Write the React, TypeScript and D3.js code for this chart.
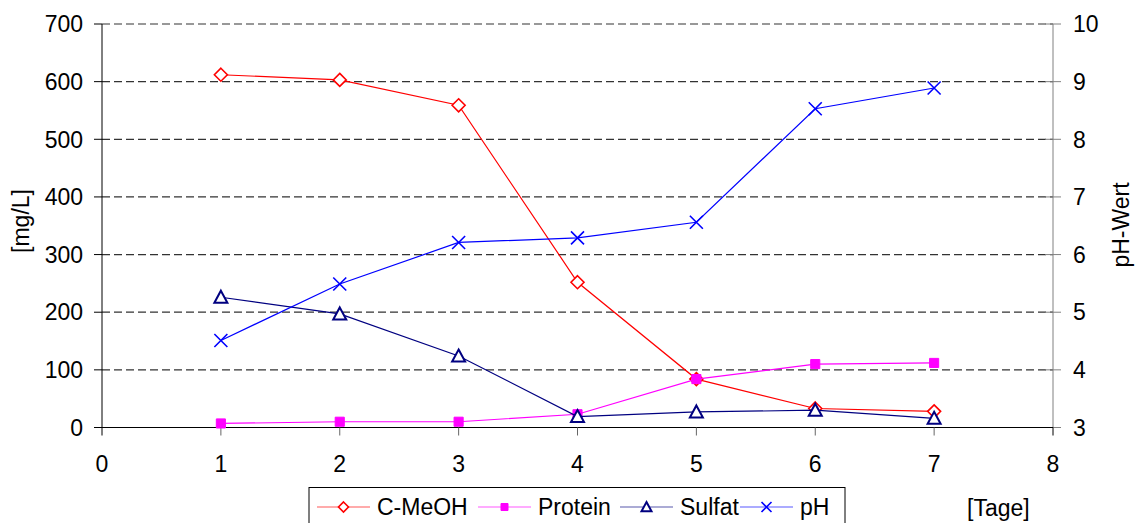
import React from "react";
import * as d3 from "d3";

const days = [1, 2, 3, 4, 5, 6, 7];
const cMeOH = [612, 603, 559, 252, 84, 33, 28];
const protein = [7, 10, 10, 23, 84, 110, 112];
const sulfat = [226, 197, 124, 19, 27, 30, 16];
const ph = [4.51, 5.49, 6.21, 6.29, 6.56, 8.53, 8.89];

const xTicks = [0, 1, 2, 3, 4, 5, 6, 7, 8];
const leftTicks = [0, 100, 200, 300, 400, 500, 600, 700];
const rightTicks = [3, 4, 5, 6, 7, 8, 9, 10];

const W = 1139;
const H = 523;
const FONT = "'Liberation Sans', Arial, sans-serif";
const FS = 23;

const x = d3.scaleLinear().domain([0, 8]).range([102, 1053]);
const yL = d3.scaleLinear().domain([0, 700]).range([427.5, 24]);
const yR = d3.scaleLinear().domain([3, 10]).range([427.5, 24]);

type Marker = "diamond" | "square" | "triangle" | "cross";

const markerPath = (m: Marker, r: number) => {
  switch (m) {
    case "diamond":
      return `M0,${-r}L${r},0L0,${r}L${-r},0Z`;
    case "square":
      return `M${-r * 0.7},${-r * 0.7}h${r * 1.4}v${r * 1.4}h${-r * 1.4}Z`;
    case "triangle":
      return `M0,${-r}L${r},${r * 0.85}L${-r},${r * 0.85}Z`;
    case "cross":
      return `M${-r},${-r}L${r},${r}M${-r},${r}L${r},${-r}`;
  }
};

const series = [
  { name: "C-MeOH", values: cMeOH, axis: "L", color: "#ff0000", marker: "diamond" as Marker },
  { name: "Protein", values: protein, axis: "L", color: "#ff00ff", marker: "square" as Marker },
  { name: "Sulfat", values: sulfat, axis: "L", color: "#000080", marker: "triangle" as Marker },
  { name: "pH", values: ph, axis: "R", color: "#0000ff", marker: "cross" as Marker },
];

const markerStyle = (m: Marker, color: string) => {
  if (m === "square") return { fill: color, stroke: color, strokeWidth: 1 };
  if (m === "cross") return { fill: "none", stroke: color, strokeWidth: 1.6 };
  return { fill: "#fff", stroke: color, strokeWidth: m === "triangle" ? 2 : 1.6 };
};

// legend layout
const legendStarts = [317, 478, 620, 740];
const legendLine = 53;

const App = () => {
  return (
    <svg
      width={W}
      height={H}
      style={{ position: "fixed", left: 0, top: 0, background: "#fff" }}
      fontFamily={FONT}
      fontSize={FS}
    >
      {/* gridlines */}
      {leftTicks
        .filter(t => t > 0)
        .map(t => (
          <line
            key={t}
            x1={x(0)}
            x2={x(8)}
            y1={yL(t)}
            y2={yL(t)}
            stroke="#333"
            strokeWidth={1.2}
            strokeDasharray="8,4"
          />
        ))}

      {/* left axis */}
      <line x1={x(0)} x2={x(0)} y1={yL(0)} y2={yL(700)} stroke="#000" />
      {leftTicks.map(t => (
        <g key={t}>
          <line x1={x(0) - 8} x2={x(0)} y1={yL(t)} y2={yL(t)} stroke="#000" />
          <text x={83} y={yL(t)} dy="0.36em" textAnchor="end">
            {t}
          </text>
        </g>
      ))}

      {/* right axis */}
      <line x1={x(8)} x2={x(8)} y1={yR(3)} y2={yR(10)} stroke="#808080" />
      {rightTicks.map(t => (
        <g key={t}>
          <line x1={x(8) - 8} x2={x(8) + 8} y1={yR(t)} y2={yR(t)} stroke="#808080" />
          <text x={1073} y={yR(t)} dy="0.36em" textAnchor="start">
            {t}
          </text>
        </g>
      ))}

      {/* bottom axis */}
      <line x1={x(0) - 8} x2={x(8)} y1={yL(0)} y2={yL(0)} stroke="#000" />
      {xTicks.map(t => (
        <g key={t}>
          <line
            x1={x(t)}
            x2={x(t)}
            y1={yL(0)}
            y2={yL(0) + 8}
            stroke={t === 0 || t === 8 ? "#000" : "#666"}
          />
          <text x={x(t)} y={472} textAnchor="middle">
            {t}
          </text>
        </g>
      ))}

      {/* axis titles */}
      <text transform="translate(29,221) rotate(-90)" textAnchor="middle">
        [mg/L]
      </text>
      <text transform="translate(1129,225) rotate(-90)" textAnchor="middle">
        pH-Wert
      </text>

      {/* series */}
      {series.map(s => {
        const y = s.axis === "L" ? yL : yR;
        const line = d3
          .line<number>()
          .x((_, i) => x(days[i]))
          .y(v => y(v));
        return (
          <g key={s.name}>
            <path d={line(s.values) || ""} fill="none" stroke={s.color} strokeWidth={1.2} />
            {s.values.map((v, i) => (
              <path
                key={i}
                transform={`translate(${x(days[i])},${y(v)})`}
                d={markerPath(s.marker, 6.5)}
                {...markerStyle(s.marker, s.color)}
              />
            ))}
          </g>
        );
      })}

      {/* legend */}
      <rect x={309} y={487.5} width={536} height={50} fill="#fff" stroke="#000" strokeWidth={1} />
      {series.map((s, i) => {
        const x0 = legendStarts[i];
        const cy = 507;
        return (
          <g key={s.name}>
            <line
              x1={x0}
              x2={x0 + legendLine}
              y1={cy}
              y2={cy}
              stroke={s.color}
              strokeWidth={1.2}
              opacity={0.65}
            />
            <path
              transform={`translate(${x0 + legendLine / 2},${cy})`}
              d={markerPath(s.marker, 5)}
              {...markerStyle(s.marker, s.color)}
            />
            <text x={x0 + legendLine + 7} y={515}>
              {s.name}
            </text>
          </g>
        );
      })}
      <text x={967} y={516}>
        [Tage]
      </text>
    </svg>
  );
};

export default App;
